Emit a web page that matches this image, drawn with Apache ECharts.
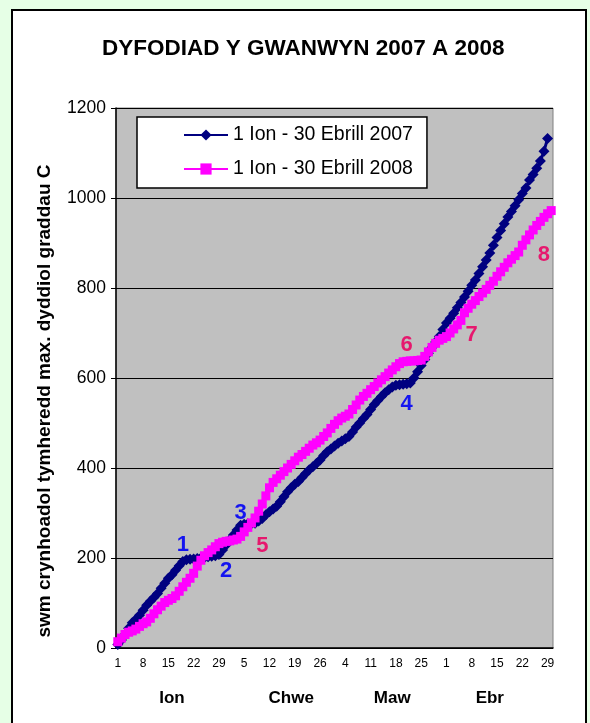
<!DOCTYPE html>
<html>
<head>
<meta charset="utf-8">
<script src="https://cdn.jsdelivr.net/npm/echarts@6/dist/echarts.min.js"></script>
<style>
  html, body { margin: 0; padding: 0; background: #e6ffe6; }
  #chart { width: 590px; height: 723px; }
</style>
</head>
<body>
<div id="chart"></div>
<script>
// tick labels: day of month, 1 Jan - 30 Apr (2008 calendar)
const monthNames = ['Ion', 'Chwe', 'Maw', 'Ebr'];
const monthDays = [31, 29, 31, 30];
const seriesNames = ['1 Ion - 30 Ebrill 2007', '1 Ion - 30 Ebrill 2008'];

// running total of daily max temperature
const sum2007 = [
  8, 18, 30, 44, 56, 64, 73, 84, 95, 104,
  112, 121, 133, 144, 155, 163, 173, 183, 192, 196,
  197, 198, 199, 200, 201, 203, 204, 205, 208, 218,
  229, 240, 251, 262, 273, 275, 276, 276, 277, 282,
  288, 296, 303, 309, 315, 325, 336, 347, 356, 364,
  370, 379, 388, 396, 403, 410, 418, 428, 436, 442,
  449, 455, 460, 465, 470, 480, 491, 500, 510, 519,
  530, 541, 550, 559, 567, 574, 580, 584, 585, 586,
  587, 589, 600, 614, 628, 641, 655, 668, 680, 692,
  708, 722, 733, 744, 756, 768, 780, 793, 806, 818,
  832, 847, 862, 878, 895, 912, 928, 943, 958, 970,
  983, 996, 1010, 1022, 1040, 1052, 1066, 1082, 1104, 1132
];
const sum2008 = [
  14, 22, 30, 35, 38, 42, 48, 54, 58, 66,
  76, 85, 93, 101, 106, 110, 116, 126, 136, 146,
  155, 166, 182, 195, 205, 212, 218, 225, 232, 235,
  237, 238, 240, 242, 248, 258, 268, 278, 289, 304,
  320, 338, 356, 368, 376, 384, 392, 400, 408, 416,
  424, 430, 437, 444, 451, 456, 462, 470, 478, 488,
  497, 505, 511, 515, 520, 530, 540, 551, 559, 566,
  574, 581, 589, 596, 603, 611, 618, 625, 632, 636,
  637, 638, 638, 639, 640, 648, 658, 668, 677, 684,
  688, 692, 700, 709, 718, 728, 745, 755, 764, 772,
  781, 789, 797, 806, 815, 826, 836, 846, 856, 864,
  872, 880, 895, 907, 918, 929, 939, 948, 957, 965,
  972
];

// numbered notes: [text, day index, value, colour]
const notes = [
  ['1', 18, 229, '#1414f0'],
  ['2', 30, 171, '#1414f0'],
  ['3', 34, 300, '#1414f0'],
  ['4', 80, 542, '#1414f0'],
  ['5', 40, 227, '#e6186e'],
  ['6', 80, 673, '#e6186e'],
  ['7', 98, 696, '#e6186e'],
  ['8', 118, 873, '#e6186e']
];

const dayLabels = [];
monthDays.forEach(n => { for (let d = 1; d <= n; d++) dayLabels.push(String(d)); });

// where each month name sits under the axis
const monthLabelIdx = [15, 48, 76, 103];

const font = 'Liberation Sans, Arial, sans-serif';
const chart = echarts.init(document.getElementById('chart'));

chart.setOption({
  animation: false,
  backgroundColor: '#e6ffe6',
  textStyle: { fontFamily: font },
  graphic: [
    {
      type: 'rect', z: -100, silent: true,
      shape: { x: 12, y: 10, width: 574, height: 730 },
      style: { fill: '#ffffff', stroke: '#000000', lineWidth: 2 }
    },
    {
      type: 'text', x: 45, y: 401, rotation: Math.PI / 2, silent: true,
      style: {
        text: 'swm crynhoadol tymheredd max. dyddiol graddau C',
        fill: '#000', font: 'bold 19px ' + font,
        align: 'center', verticalAlign: 'middle'
      }
    }
  ],
  title: {
    text: 'DYFODIAD Y GWANWYN 2007 A 2008',
    left: 97, top: 32,
    textStyle: { fontSize: 22.5, fontWeight: 'bold', color: '#000', fontFamily: font }
  },
  legend: {
    data: seriesNames,
    orient: 'vertical',
    left: 137, top: 117,
    padding: [8, 14, 9, 46],
    itemWidth: 44, itemHeight: 14, itemGap: 14,
    backgroundColor: '#ffffff',
    borderColor: '#000000', borderWidth: 1.5,
    textStyle: { fontSize: 19.5, color: '#000', lineHeight: 18, fontFamily: font }
  },
  grid: {
    left: 116, top: 108, right: 37, bottom: 75,
    show: true, backgroundColor: '#c0c0c0',
    borderColor: '#808080', borderWidth: 1
  },
  xAxis: [
    {
      type: 'category', data: dayLabels, boundaryGap: true,
      axisLine: { lineStyle: { color: '#000', width: 1.5 } },
      axisTick: { interval: 0, length: 4, lineStyle: { color: '#000' } },
      axisLabel: {
        interval: i => i % 7 === 0,
        fontSize: 12, color: '#000', margin: 10, fontFamily: font
      }
    },
    {
      type: 'category', data: dayLabels, position: 'bottom',
      axisLine: { show: false }, axisTick: { show: false },
      axisLabel: {
        interval: i => monthLabelIdx.indexOf(i) >= 0,
        formatter: (v, i) => monthNames[monthLabelIdx.indexOf(i)],
        fontSize: 17, fontWeight: 'bold', color: '#000', margin: 42, fontFamily: font
      }
    }
  ],
  yAxis: {
    type: 'value', min: 0, max: 1200, interval: 200,
    axisLine: { show: true, lineStyle: { color: '#000', width: 1.5 } },
    axisTick: { show: true, length: 5, lineStyle: { color: '#000' } },
    axisLabel: { fontSize: 17.5, color: '#000', margin: 10, fontFamily: font, formatter: v => String(v) },
    splitLine: { lineStyle: { color: '#000', width: 1 } }
  },
  series: [
    {
      name: seriesNames[0], type: 'line', data: sum2007,
      symbol: 'diamond', symbolSize: 11, showAllSymbol: true,
      lineStyle: { color: '#000080', width: 3 },
      itemStyle: { color: '#000080' },
      markPoint: {
        symbol: 'rect', symbolSize: 1,
        itemStyle: { color: 'rgba(0,0,0,0)' },
        label: { show: true, position: 'inside', formatter: '{b}', fontSize: 22, fontWeight: 'bold', fontFamily: font },
        data: notes.map(n => ({ name: n[0], coord: [n[1], n[2]], label: { color: n[3] } }))
      }
    },
    {
      name: seriesNames[1], type: 'line', data: sum2008,
      symbol: 'rect', symbolSize: 9, showAllSymbol: true,
      lineStyle: { color: '#ff00ff', width: 3 },
      itemStyle: { color: '#ff00ff' }
    }
  ]
});
</script>
</body>
</html>
